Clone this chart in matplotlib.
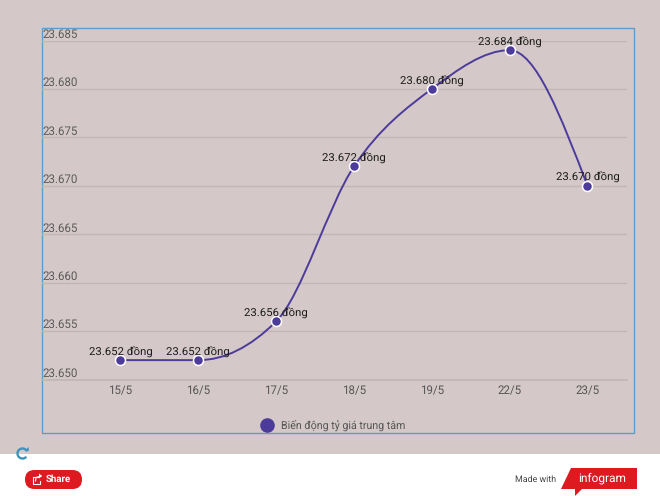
import matplotlib
matplotlib.use("Agg")
import matplotlib.pyplot as plt
import numpy as np
from matplotlib.lines import Line2D
from matplotlib.patches import Arc, FancyBboxPatch, PathPatch, Polygon, Rectangle
from matplotlib.path import Path

plt.rcParams["font.family"] = ["Roboto", "DejaVu Sans"]
plt.rcParams["text.hinting"] = "none"

W, H = 660, 496
BG = "#d5c8c9"
PURPLE = "#4d3b9b"
BLUE = "#5b9fc9"
RED = "#dd1a20"

dates = ["15/5", "16/5", "17/5", "18/5", "19/5", "22/5", "23/5"]
rates = [23652, 23652, 23656, 23672, 23680, 23684, 23670]
rate_labels = ["23.652 đồng", "23.652 đồng", "23.656 đồng", "23.672 đồng",
               "23.680 đồng", "23.684 đồng", "23.670 đồng"]
y_ticks = [23650, 23655, 23660, 23665, 23670, 23675, 23680, 23685]
y_tick_labels = ["23.650", "23.655", "23.660", "23.665", "23.670", "23.675", "23.680", "23.685"]
series_name = "Biến động tỷ giá trung tâm"


def monotone_path(x, y):
    """Bezier path through the points, same idea as d3's curveMonotoneX."""
    x = np.asarray(x, dtype=float)
    y = np.asarray(y, dtype=float)
    h = np.diff(x)
    s = np.diff(y) / h
    t = np.zeros_like(y)
    for i in range(1, len(y) - 1):
        p = (s[i - 1] * h[i] + s[i] * h[i - 1]) / (h[i - 1] + h[i])
        t[i] = (np.sign(s[i - 1]) + np.sign(s[i])) * min(abs(s[i - 1]), abs(s[i]), 0.5 * abs(p))
    t[0] = (3 * s[0] - t[1]) / 2
    t[-1] = (3 * s[-1] - t[-2]) / 2
    verts = [(x[0], y[0])]
    codes = [Path.MOVETO]
    for i in range(len(h)):
        d = h[i] / 3
        verts += [(x[i] + d, y[i] + d * t[i]), (x[i + 1] - d, y[i + 1] - d * t[i + 1]), (x[i + 1], y[i + 1])]
        codes += [Path.CURVE4] * 3
    return Path(verts, codes)


fig = plt.figure(figsize=(W / 100, H / 100), dpi=100, facecolor="white")

# page furniture, drawn in pixel coordinates
page = fig.add_axes([0, 0, 1, 1])
page.set_xlim(0, W)
page.set_ylim(H, 0)
page.axis("off")
page.add_patch(Rectangle((0, 0), W, 454, fc=BG, ec="none"))
page.add_patch(Rectangle((42, 28), 592, 405, fc="none", ec=BLUE, lw=1))
page.add_patch(Arc((22.5, 453.5), 10, 10, theta1=40, theta2=335, ec="#3f93bd", lw=1.7))
page.add_patch(Polygon([(24.5, 451), (29, 451), (28.5, 447)], fc="#3f93bd", ec="none"))
page.add_patch(FancyBboxPatch((25, 470), 57, 19, boxstyle="round,pad=0,rounding_size=9.5",
                              fc=RED, ec="none"))
# share icon: open box with an arrow leaving it
page.plot([38, 33, 33, 40, 40], [477, 477, 483.5, 483.5, 480.5], color="white", lw=0.8)
page.plot([35.5, 36, 41], [481, 477.5, 476], color="white", lw=0.8)
page.add_patch(Polygon([(39, 473.5), (42, 476), (39, 478.5)], fc="white", ec="none"))
page.text(46, 479.5, "Share", color="white", fontsize=6.9, fontweight="bold", ha="left", va="center")
page.text(515, 479, "Made with", color="#444444", fontsize=6.4, ha="left", va="center")
page.add_patch(Polygon([(571, 468), (637, 468), (637, 489), (582, 489), (575, 496), (575, 489), (561, 489)],
                       fc=RED, ec="none"))
page.text(602, 478.5, "infogram", color="white", fontsize=8.6, ha="center", va="center")

# chart area: 15/5 sits at x=121, categories 77.83px apart
left, right, top, bottom = 42, 627, 40.5, 379.5
ax = fig.add_axes([left / W, 1 - bottom / H, (right - left) / W, (bottom - top) / H])
ax.patch.set_alpha(0)
step = 77.83
ax.set_xlim(-(120.5 - left) / step, (right - 120.5) / step)
ax.set_ylim(y_ticks[0], y_ticks[-1])
for side in ["top", "left", "right"]:
    ax.spines[side].set_visible(False)
ax.spines["bottom"].set_color("#c2b5b6")
ax.spines["bottom"].set_linewidth(1.2)
ax.set_yticks(y_ticks)
ax.set_yticklabels([])
ax.tick_params(left=False, bottom=False)
ax.grid(axis="y", color="#c2b5b6", lw=1)
ax.set_axisbelow(True)

xs = np.arange(len(dates))
ax.set_xticks(xs)
ax.set_xticklabels(dates, color="#555555", fontsize=8.3)
ax.tick_params(axis="x", pad=0.5)

for value, label in zip(y_ticks, y_tick_labels):
    ax.annotate(label, (0, value), xycoords=("axes fraction", "data"), xytext=(0, 6),
                textcoords="offset pixels", color="#5a5a5a", fontsize=8.3, ha="left", va="center",
                annotation_clip=False)

ax.add_patch(PathPatch(monotone_path(xs, rates), fc="none", ec=PURPLE, lw=1.4, clip_on=False))
ax.plot(xs, rates, ls="none", marker="o", ms=7.2, mfc=PURPLE, mec="white", mew=1.1, clip_on=False, zorder=4)
for x, value, label in zip(xs, rates, rate_labels):
    ax.annotate(label, (x, value), xytext=(0, 8), textcoords="offset pixels", color="#1c1c1c",
                fontsize=8.2, ha="center", va="center", zorder=5, annotation_clip=False)

handle = Line2D([], [], ls="none", marker="o", ms=10.5, mfc=PURPLE, mec="none")
fig.legend([handle], [series_name], loc="center left", bbox_to_anchor=(256 / W, 1 - 425 / H),
           frameon=False, fontsize=7.7, labelcolor="#555555", handletextpad=0.3,
           borderpad=0, borderaxespad=0)

fig.savefig("out.png", dpi=100, facecolor="white")
